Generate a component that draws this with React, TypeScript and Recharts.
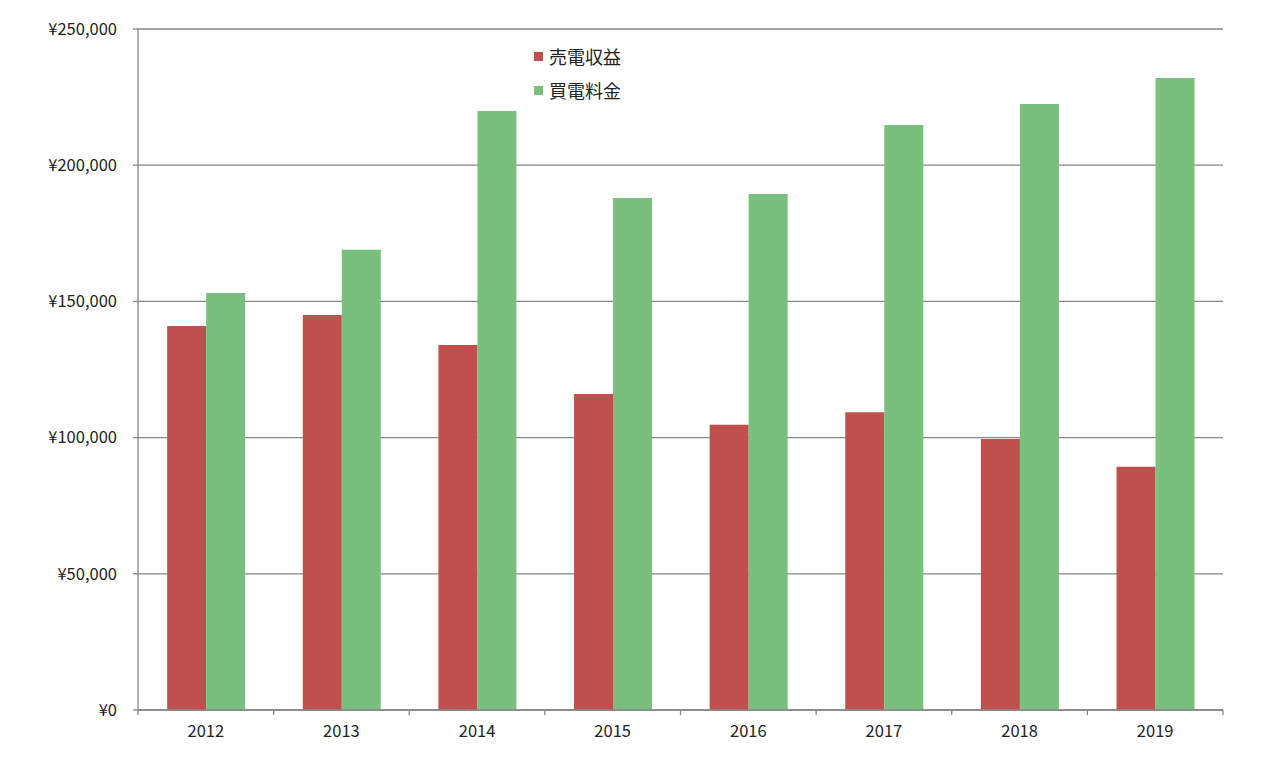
import { BarChart, Bar, XAxis, YAxis, CartesianGrid, Legend } from "recharts";

const years = ["2012", "2013", "2014", "2015", "2016", "2017", "2018", "2019"];
const sales = [141000, 145000, 134000, 116000, 104700, 109300, 99500, 89300];
const purchase = [153100, 169000, 219900, 188000, 189400, 214800, 222500, 232000];
const yTicks = [0, 50000, 100000, 150000, 200000, 250000];

const seriesNames = { sales: "売電収益", purchase: "買電料金" };
const colors = { sales: "#C0504D", purchase: "#79BF7D" };

const data = years.map((year, i) => ({
  year,
  sales: sales[i],
  purchase: purchase[i],
}));

const FONT = '"Noto Sans CJK JP", "Noto Sans", sans-serif';
const AXIS = "#868686";
const PLOT_LEFT = 138;
const PLOT_RIGHT = 1223;
const BAND = (PLOT_RIGHT - PLOT_LEFT) / years.length;

const yen = (v: number) => "¥" + v.toLocaleString("en-US");

function YearTick(props: any) {
  const { x, y, payload, index } = props;
  const left = x - BAND / 2;
  return (
    <g>
      <line x1={left} y1={y} x2={left} y2={y + 5} stroke={AXIS} strokeWidth={1.3} />
      {index === years.length - 1 && (
        <line x1={left + BAND} y1={y} x2={left + BAND} y2={y + 5} stroke={AXIS} strokeWidth={1.3} />
      )}
      <text x={x} y={y + 23} textAnchor="middle" dominantBaseline="middle" fontSize={16.5} fill="#222" fontFamily={FONT}>
        {payload.value}
      </text>
    </g>
  );
}

function LegendBox() {
  const rows = [
    { name: seriesNames.sales, color: colors.sales },
    { name: seriesNames.purchase, color: colors.purchase },
  ];
  return (
    <div style={{ fontFamily: FONT }}>
      {rows.map((r) => (
        <div key={r.name} style={{ display: "flex", alignItems: "center", height: 34 }}>
          <span style={{ width: 9, height: 9, background: r.color, marginRight: 6, display: "inline-block" }} />
          <span style={{ fontSize: 18, color: "#222" }}>{r.name}</span>
        </div>
      ))}
    </div>
  );
}

export default function App() {
  return (
    <div style={{ position: "absolute", left: 0, top: 0, background: "#fff" }}>
      <BarChart
        width={1280}
        height={760}
        data={data}
        margin={{ top: 29, right: 1280 - PLOT_RIGHT, bottom: 0, left: 0 }}
        barCategoryGap="21.5%"
        barGap={0}
      >
        <CartesianGrid vertical={false} stroke={AXIS} strokeWidth={1.3} />
        <XAxis
          dataKey="year"
          height={50}
          axisLine={{ stroke: AXIS, strokeWidth: 1.3 }}
          tickLine={false}
          tickSize={0}
          tickMargin={0}
          tick={<YearTick />}
          interval={0}
        />
        <YAxis
          width={PLOT_LEFT}
          domain={[0, 250000]}
          ticks={yTicks}
          tickFormatter={yen}
          axisLine={{ stroke: AXIS, strokeWidth: 1.3 }}
          tickLine={{ stroke: AXIS, strokeWidth: 1.3 }}
          tickSize={5}
          tickMargin={16}
          tick={{ fontSize: 16.5, fill: "#222", fontFamily: FONT }}
        />
        <Legend
          layout="vertical"
          align="center"
          verticalAlign="middle"
          content={<LegendBox />}
          wrapperStyle={{ position: "absolute", left: 534, top: 39, width: "auto" }}
        />
        <Bar dataKey="sales" name={seriesNames.sales} fill={colors.sales} isAnimationActive={false} />
        <Bar dataKey="purchase" name={seriesNames.purchase} fill={colors.purchase} isAnimationActive={false} />
      </BarChart>
    </div>
  );
}
